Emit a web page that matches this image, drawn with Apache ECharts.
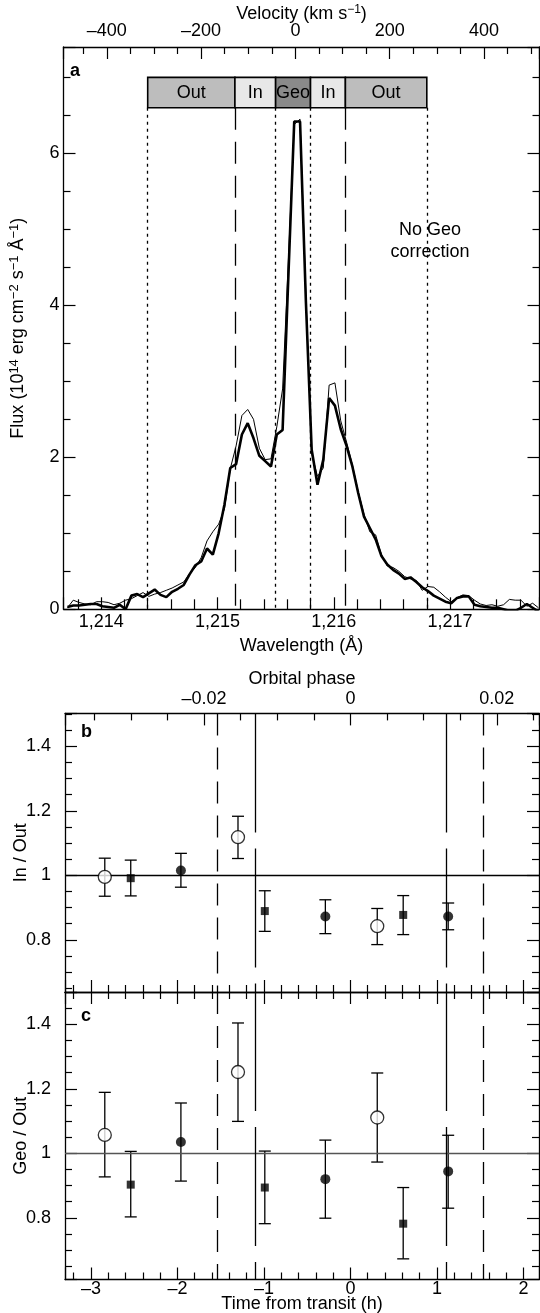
<!DOCTYPE html>
<html><head><meta charset="utf-8">
<script src="https://cdn.jsdelivr.net/npm/echarts@6/dist/echarts.min.js"></script>
<style>html,body{margin:0;padding:0;background:#fff}#chart{width:540px;height:1313px}</style>
</head><body><div id="chart"></div>
<script>
// ---------- Panel a: Lyman-alpha spectrum ----------
const wavelength = [1213.71,1213.76,1213.81,1213.86,1213.91,1213.96,1214.01,1214.06,1214.11,1214.16,
 1214.21,1214.26,1214.31,1214.36,1214.41,1214.46,1214.51,1214.56,1214.61,1214.66,
 1214.71,1214.76,1214.81,1214.86,1214.91,1214.96,1215.01,1215.06,1215.11,1215.16,
 1215.21,1215.26,1215.31,1215.36,1215.41,1215.46,1215.51,1215.56,1215.61,1215.66,
 1215.71,1215.76,1215.81,1215.86,1215.91,1215.96,1216.01,1216.06,1216.11,1216.16,
 1216.21,1216.26,1216.31,1216.36,1216.41,1216.46,1216.51,1216.56,1216.61,1216.66,
 1216.71,1216.76,1216.81,1216.86,1216.91,1216.96,1217.01,1217.06,1217.11,1217.16,
 1217.21,1217.26,1217.31,1217.36,1217.41,1217.46,1217.51,1217.56,1217.61,1217.66,
 1217.71,1217.76];
const fluxThick = [0.03,0.05,0.05,0.06,0.07,0.07,0.04,0.03,0.02,0.06,
 0.00,0.18,0.20,0.16,0.21,0.26,0.19,0.16,0.23,0.27,
 0.32,0.46,0.58,0.63,0.80,0.72,1.00,1.38,1.86,1.91,
 2.30,2.45,2.25,2.02,1.95,1.88,2.30,2.36,4.40,6.42,
 6.42,4.06,2.10,1.64,1.97,2.78,2.68,2.37,2.15,1.88,
 1.53,1.22,1.07,0.92,0.70,0.59,0.52,0.47,0.40,0.42,
 0.36,0.29,0.24,0.18,0.14,0.10,0.08,0.15,0.17,0.17,
 0.06,0.04,0.03,0.02,0.02,0.00,-0.02,-0.02,0.02,0.07,
 0.02,-0.03];
const fluxThin = [0.02,0.12,0.09,0.07,0.06,0.10,0.10,0.09,0.06,0.08,
 0.12,0.14,0.18,0.22,0.17,0.20,0.22,0.25,0.28,0.32,
 0.36,0.47,0.55,0.68,0.90,1.02,1.12,1.32,1.85,2.15,
 2.55,2.63,2.50,2.12,1.97,1.98,2.40,2.90,4.60,6.38,
 6.45,4.15,2.05,1.75,1.86,2.95,2.98,2.48,2.20,1.90,
 1.55,1.25,1.02,0.98,0.72,0.57,0.55,0.50,0.43,0.40,
 0.38,0.25,0.30,0.29,0.23,0.16,0.10,0.15,0.19,0.18,
 0.12,0.07,0.05,0.06,0.04,0.06,0.13,0.12,0.12,0.04,
 0.08,0.02];
const bandEdges = [1214.40, 1215.15, 1215.50, 1215.80, 1216.10, 1216.80];
const bandEdgeStyle = ['dot','dash','dot','dot','dash','dot'];
const bandLabels = ['Out','In','Geo','In','Out'];
const bandFills = ['#bdbdbd','#e8e8e8','#8a8a8a','#e8e8e8','#bdbdbd'];
const bandFluxRange = [6.6, 7.0];
const lambda0 = 1215.67, cLight = 299792.458;
const waveRange = [1213.676, 1217.769];
const fluxRange = [0, 7.4];

// ---------- Panels b, c: light-curve ratios ----------
const timeH = [-2.84,-2.54,-1.96,-1.30,-0.99,-0.29,0.31,0.61,1.13];
const markerKind = ['open','square','filled','open','square','filled','open','square','filled'];
const inOut   = [0.995,0.991,1.015,1.118,0.889,0.872,0.842,0.877,0.872];
const inOutHi = [1.053,1.047,1.068,1.183,0.952,0.924,0.897,0.937,0.914];
const inOutLo = [0.935,0.936,0.963,1.052,0.826,0.819,0.785,0.816,0.831];
const geoOut   = [1.057,0.903,1.035,1.252,0.894,0.920,1.111,0.782,0.944];
const geoOutHi = [1.189,1.006,1.156,1.404,1.007,1.041,1.249,0.894,1.056];
const geoOutLo = [0.927,0.803,0.914,1.099,0.782,0.799,0.973,0.673,0.830];
const contactTimes = [-1.535,-1.105,1.105,1.535];
const contactStyle = ['dash','long','long','dash'];
const timeRange = [-3.30, 2.18];
const periodH = 84.6;
const ratioRangeB = [0.638, 1.502];
const ratioRangeC = [0.609, 1.5];

const FONT = '"Liberation Sans", Arial, Helvetica, sans-serif';
const FS = 18;
const dash = s => s.replace(/-/g, '\u2013');
const dashPattern = {dot:[3,4], dash:[22,12], long:[119,16]};
const TICK = {color:'#000', width:1.2};

function frameAxis(extra){
  return Object.assign({
    type:'value', scale:true, nameMoveOverlap:false,
    axisLine:{show:true, onZero:false, lineStyle:{color:'#000', width:1.3}},
    axisTick:{show:true, inside:true, length:12, lineStyle:TICK},
    minorTick:{show:true, length:7, lineStyle:TICK},
    splitLine:{show:false},
    axisLabel:{show:false},
  }, extra);
}
function labelStyle(formatter, margin){
  return {show:true, color:'#000', fontSize:FS, fontFamily:FONT, margin:margin,
          showMinLabel:false, showMaxLabel:false, formatter};
}
function nameStyle(base, sup){
  return {color:'#000', fontSize:base, fontFamily:FONT, lineHeight:base+3,
    rich:{sup:{fontSize:sup, fontFamily:FONT, color:'#000', verticalAlign:'top', lineHeight:base+3}}};
}

const grids = [
  {left:63.5, right:0.5, top:47, height:562.3, outerBoundsMode:'none', containLabel:false},
  {left:65, right:1, top:713.4, height:278.6, outerBoundsMode:'none', containLabel:false},
  {left:65, right:1, top:992, height:287.5, outerBoundsMode:'none', containLabel:false}
];

const xAxes = [
  frameAxis({gridIndex:0, position:'bottom', min:waveRange[0], max:waveRange[1], splitNumber:5,
    minorTick:{show:true, splitNumber:5, length:10, lineStyle:TICK},
    axisLabel:labelStyle(v => v.toFixed(0).replace(/^(\d)(\d{3})$/, '$1,$2'), 4),
    name:'Wavelength (Å)', nameLocation:'middle', nameGap:26, nameTextStyle:nameStyle(FS, 12)}),
  frameAxis({gridIndex:0, position:'top',
    min:(waveRange[0]-lambda0)/lambda0*cLight, max:(waveRange[1]-lambda0)/lambda0*cLight, splitNumber:5,
    minorTick:{show:true, splitNumber:4, length:7, lineStyle:TICK},
    axisLabel:labelStyle(v => dash(String(Math.round(v))), 7),
    name:'Velocity (km s{sup|\u22121})', nameLocation:'middle', nameGap:22, nameTextStyle:nameStyle(FS, 12)}),
  frameAxis({gridIndex:1, position:'bottom', min:timeRange[0], max:timeRange[1], splitNumber:5,
    minorTick:{show:true, splitNumber:5, length:7, lineStyle:TICK}}),
  frameAxis({gridIndex:1, position:'top', min:timeRange[0]/periodH, max:timeRange[1]/periodH, splitNumber:3,
    minorTick:{show:true, splitNumber:4, length:7, lineStyle:TICK},
    axisLabel:labelStyle(v => Math.abs(v) < 1e-9 ? '0' : dash(v.toFixed(2)), 5),
    name:'Orbital phase', nameLocation:'middle', nameGap:24, nameTextStyle:nameStyle(FS, 12)}),
  frameAxis({gridIndex:2, position:'bottom', min:timeRange[0], max:timeRange[1], splitNumber:5,
    minorTick:{show:true, splitNumber:5, length:7, lineStyle:TICK},
    axisLabel:labelStyle(v => dash(String(Math.round(v))), 1),
    name:'Time from transit (h)', nameLocation:'middle', nameGap:14, nameTextStyle:nameStyle(FS, 12)}),
  frameAxis({gridIndex:2, position:'top', min:timeRange[0], max:timeRange[1], splitNumber:5,
    minorTick:{show:true, splitNumber:5, length:7, lineStyle:TICK}}),
];
const ratioLabel = v => (Math.round(v*10)/10).toString();
const yAxes = [
  frameAxis({gridIndex:0, position:'left', min:fluxRange[0], max:fluxRange[1], interval:2,
    minorTick:{show:true, splitNumber:4, length:7, lineStyle:TICK},
    axisLabel:Object.assign(labelStyle(v => String(v), 4), {showMinLabel:true}),
    name:'Flux (10{sup|14} erg cm{sup|\u22122} s{sup|\u22121} Å{sup|\u22121})', nameLocation:'middle', nameGap:35,
    nameTextStyle:nameStyle(FS, 13)}),
  frameAxis({gridIndex:0, position:'right', min:fluxRange[0], max:fluxRange[1], interval:2,
    minorTick:{show:true, splitNumber:4, length:7, lineStyle:TICK}}),
  frameAxis({gridIndex:1, position:'left', min:ratioRangeB[0], max:ratioRangeB[1], splitNumber:5,
    minorTick:{show:true, splitNumber:4, length:7, lineStyle:TICK},
    axisLabel:labelStyle(ratioLabel, 14), name:'In / Out', nameLocation:'middle', nameGap:33, nameTextStyle:nameStyle(FS, 12)}),
  frameAxis({gridIndex:1, position:'right', min:ratioRangeB[0], max:ratioRangeB[1], splitNumber:5,
    minorTick:{show:true, splitNumber:4, length:7, lineStyle:TICK}}),
  frameAxis({gridIndex:2, position:'left', min:ratioRangeC[0], max:ratioRangeC[1], splitNumber:5,
    minorTick:{show:true, splitNumber:4, length:7, lineStyle:TICK},
    axisLabel:labelStyle(ratioLabel, 14), name:'Geo / Out', nameLocation:'middle', nameGap:33, nameTextStyle:nameStyle(FS, 12)}),
  frameAxis({gridIndex:2, position:'right', min:ratioRangeC[0], max:ratioRangeC[1], splitNumber:5,
    minorTick:{show:true, splitNumber:4, length:7, lineStyle:TICK}}),
];

const series = [];
// spectrum lines
series.push({type:'line', xAxisIndex:0, yAxisIndex:0, symbol:'none', clip:true, z:3,
  data:wavelength.map((w,i)=>[w, fluxThin[i]]), lineStyle:{color:'#000', width:1}});
series.push({type:'line', xAxisIndex:0, yAxisIndex:0, symbol:'none', clip:true, z:4,
  data:wavelength.map((w,i)=>[w, fluxThick[i]]), lineStyle:{color:'#000', width:2.6},
  markLine:{silent:true, symbol:'none', label:{show:false},
    data:bandEdges.map((e,i)=>[
      {coord:[e, bandFluxRange[0]], lineStyle:{color:'#000', width:1.3, type:dashPattern[bandEdgeStyle[i]]}},
      {coord:[e, fluxRange[0]]}
    ])}});
// region bar
series.push({type:'custom', xAxisIndex:0, yAxisIndex:0, clip:false, z:6,
  data:bandLabels.map((l,i)=>[bandEdges[i], bandEdges[i+1], i]),
  renderItem:(params, api)=>{
    const i = api.value(2);
    const p1 = api.coord([api.value(0), bandFluxRange[1]]);
    const p2 = api.coord([api.value(1), bandFluxRange[0]]);
    return {type:'group', children:[
      {type:'rect', shape:{x:p1[0], y:p1[1], width:p2[0]-p1[0], height:p2[1]-p1[1]},
       style:{fill:bandFills[i], stroke:'#000', lineWidth:1.6}},
      {type:'text', x:(p1[0]+p2[0])/2, y:(p1[1]+p2[1])/2,
       style:{text:bandLabels[i], fill:'#000', font:FS+'px '+FONT, align:'center', verticalAlign:'middle'}}
    ]};
  }});

function errRender(params, api){
  const x = api.value(0), lo = api.value(1), hi = api.value(2);
  const a = api.coord([x, lo]), b = api.coord([x, hi]);
  const w = 6, st = {stroke:'#000', lineWidth:1.3};
  return {type:'group', children:[
    {type:'line', shape:{x1:a[0], y1:a[1], x2:b[0], y2:b[1]}, style:st},
    {type:'line', shape:{x1:a[0]-w, y1:a[1], x2:a[0]+w, y2:a[1]}, style:st},
    {type:'line', shape:{x1:b[0]-w, y1:b[1], x2:b[0]+w, y2:b[1]}, style:st}
  ]};
}
const markerStyle = {
  open:{symbol:'circle', symbolSize:13, itemStyle:{color:'#fff', borderColor:'#000', borderWidth:1.3}},
  filled:{symbol:'circle', symbolSize:10, itemStyle:{color:'#000'}},
  square:{symbol:'rect', symbolSize:8, itemStyle:{color:'#000'}}
};
function ratioPanel(axisIdx, vals, his, los, range, lineColor){
  series.push({type:'custom', xAxisIndex:axisIdx, yAxisIndex:axisIdx, z:4,
    encode:{x:0, y:[1,2]},
    data:timeH.map((t,i)=>[t, los[i], his[i]]), renderItem:errRender,
    markLine:{silent:true, symbol:'none', label:{show:false},
      data:[{yAxis:1, lineStyle:{color:lineColor, width:1.3, type:'solid'}}].concat(
        contactTimes.map((t,i)=>[
          {coord:[t, range[1]], lineStyle:{color:'#000', width:1.3, type:dashPattern[contactStyle[i]]}},
          {coord:[t, range[0]]}
        ]))}});
  ['open','filled','square'].forEach(k=>{
    series.push(Object.assign({type:'scatter', xAxisIndex:axisIdx, yAxisIndex:axisIdx, z:5,
      data:timeH.map((t,i)=>markerKind[i]===k ? [t, vals[i]] : null).filter(d=>d)}, markerStyle[k]));
  });
}
ratioPanel(2, inOut, inOutHi, inOutLo, ratioRangeB, '#000');
ratioPanel(4, geoOut, geoOutHi, geoOutLo, ratioRangeC, '#555');

const graphic = [
  {type:'text', left:70, top:62, style:{text:'a', font:'bold '+FS+'px '+FONT, fill:'#000'}},
  {type:'text', left:81, top:723, style:{text:'b', font:'bold '+FS+'px '+FONT, fill:'#000'}},
  {type:'text', left:81, top:1007, style:{text:'c', font:'bold '+FS+'px '+FONT, fill:'#000'}},
  {type:'text', x:430, y:241, style:{text:'No Geo\ncorrection', font:FS+'px '+FONT, fill:'#000',
    align:'center', verticalAlign:'middle', lineHeight:22}}
];

const chart = echarts.init(document.getElementById('chart'), null, {renderer:'canvas'});
chart.setOption({animation:false, backgroundColor:'#fff', grid:grids, xAxis:xAxes, yAxis:yAxes, series, graphic});
</script></body></html>
